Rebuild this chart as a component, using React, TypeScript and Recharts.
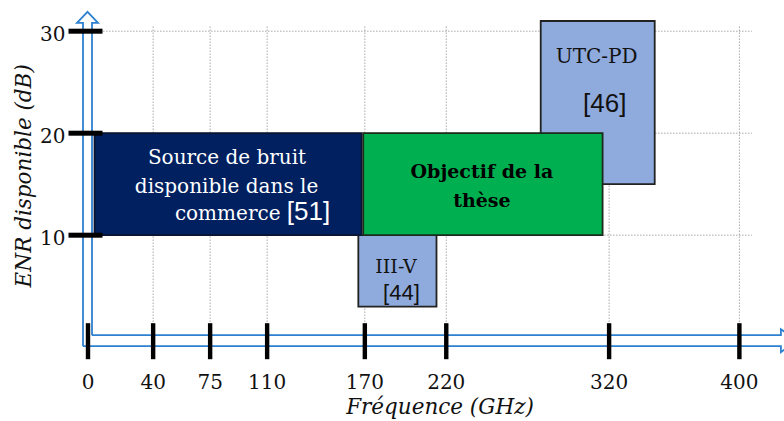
import React from 'react';
import { ComposedChart, XAxis, YAxis, ReferenceArea, ReferenceLine } from 'recharts';

// ---- data ----
const xTicks = [0, 40, 75, 110, 170, 220, 320, 400];
const yTicks = [10, 20, 30];
const xDomain = [0, 425];
const yDomain = [0, 32];
// extent of the dotted grid (data units)
const gridXRange = [7.4, 407.7];
const gridYRange = [1.2, 30.6];

const boxNames = ['UTC-PD', 'III-V', 'Source', 'Objectif'];
const boxX1 = [278, 166, 4, 169];
const boxX2 = [348, 214, 168, 316];
const boxY1 = [15, 3, 10, 10];
const boxY2 = [31, 10, 20, 20];
const boxLabels: string[][] = [
  ['UTC-PD', '[46]'],
  ['III-V', '[44]'],
  ['Source de bruit', 'disponible dans le', 'commerce [51]'],
  ['Objectif de la', 'thèse'],
];
const xTitle = 'Fréquence (GHz)';
const yTitle = 'ENR disponible (dB)';

// ---- styles ----
const SERIF = '"DejaVu Serif", serif';
const SANS = '"Liberation Sans", Arial, sans-serif';
const AXIS_BLUE = '#2E80D0';
const GRID = '#a8a8a8';
const boxFill = ['#8FAADC', '#8FAADC', '#002060', '#00B050'];
const boxStroke = ['#222222', '#222222', '#0a1430', '#1b2a1b'];
const labelStyle = [
  { color: '#111', weight: 400, size: 20, lines: [{ dx: -1, dy: -39.6, ref: 26 }, { dx: 7, dy: 9.4, ref: 26 }] },
  { color: '#111', weight: 400, size: 19, lines: [{ dx: -1.4, dy: 2.5, ref: 22 }, { dx: 4, dy: 29.5, ref: 22 }] },
  { color: '#fff', weight: 400, size: 20, lines: [{ dx: -1, dy: -20, ref: 26 }, { dx: -1.5, dy: 9, ref: 26 }, { dx: 24.5, dy: 36, ref: 26 }] },
  { color: '#000', weight: 700, size: 19, lines: [{ dx: -1, dy: -6, ref: 26 }, { dx: -1, dy: 23, ref: 26 }] },
];

const BoxLabel = (props: any) => {
  const { viewBox, idx } = props;
  if (!viewBox) return null;
  const cx = viewBox.x + viewBox.width / 2;
  const cy = viewBox.y + viewBox.height / 2;
  const st = labelStyle[idx];
  return (
    <g>
      {boxLabels[idx].map((line, i) => {
        const ln = st.lines[i];
        const parts = line.split(/(\[\d+\])/).filter((s) => s.length > 0);
        return (
          <text key={i} x={cx + ln.dx} y={cy + ln.dy} textAnchor="middle" fill={st.color}
            fontFamily={SERIF} fontSize={st.size} fontWeight={st.weight}>
            {parts.map((p, j) =>
              /^\[\d+\]$/.test(p) ? (
                <tspan key={j} fontFamily={SANS} fontSize={ln.ref} fontWeight={400}>{p}</tspan>
              ) : (
                <tspan key={j}>{p}</tspan>
              )
            )}
          </text>
        );
      })}
    </g>
  );
};

const XTick = (props: any) => {
  const { x, y, payload } = props;
  return (
    <g>
      <rect x={x - 2.2} y={y - 14} width={4.4} height={36} fill="#000" />
      <text x={x} y={y + 52} textAnchor="middle" fontFamily={SERIF} fontSize={20} fill="#111">
        {payload.value}
      </text>
    </g>
  );
};

const YTick = (props: any) => {
  const { x, y, payload } = props;
  return (
    <g>
      <rect x={x - 19.5} y={y - 2.5} width={34} height={5} fill="#000" />
      <text x={x - 22.5} y={y + 10} textAnchor="end" fontFamily={SERIF} fontSize={20} fill="#111">
        {payload.value}
      </text>
    </g>
  );
};

const VArrow = (props: any) => {
  const { x1, y1, y2 } = props;
  const cx = x1 - 0.5;
  const tip = Math.min(y1, y2);
  const y0 = Math.max(y1, y2);
  const base = tip + 11;
  const h = 4.5;
  return (
    <g>
      <path d={`M${cx - h},${base} L${cx - 10.5},${base} L${cx},${tip} L${cx + 10.5},${base} L${cx + h},${base} L${cx + h},${y0 - 2} L${cx - h},${y0 - 2} Z`} fill="#fff" stroke="none" />
      <path d={`M${cx - h},${y0 + 9} L${cx - h},${base} L${cx - 10.5},${base} L${cx},${tip} L${cx + 10.5},${base} L${cx + h},${base} L${cx + h},${y0 - 2}`}
        fill="none" stroke={AXIS_BLUE} strokeWidth={1.8} />
    </g>
  );
};

const HArrow = (props: any) => {
  const { x1, y1, x2 } = props;
  const cx = x1 - 0.5;
  const xe = x2;
  const top = y1 - 2;
  const bot = y1 + 9;
  return (
    <g>
      <rect x={cx + 4.5} y={top} width={xe - cx - 4.5} height={bot - top} fill="#fff" />
      <path d={`M${cx + 4.5},${top} L${xe},${top} L${xe},${top - 6} L${xe + 16},${(top + bot) / 2} L${xe},${bot + 6} L${xe},${bot} L${cx - 4.5},${bot}`}
        fill="none" stroke={AXIS_BLUE} strokeWidth={1.8} />
    </g>
  );
};

const XTitle = (props: any) => {
  const { viewBox } = props;
  if (!viewBox) return null;
  return (
    <text x={viewBox.x + viewBox.width / 2 + 6} y={viewBox.y + 77} textAnchor="middle"
      fontFamily={SERIF} fontStyle="italic" fontSize={21.5} fill="#111">{xTitle}</text>
  );
};

const YTitle = (props: any) => {
  const { viewBox } = props;
  if (!viewBox) return null;
  const x = viewBox.x + 31;
  const y = viewBox.y + 165;
  return (
    <text x={x} y={y} transform={`rotate(-90 ${x} ${y})`} textAnchor="middle"
      fontFamily={SERIF} fontStyle="italic" fontSize={21.5} fill="#111">{yTitle}</text>
  );
};

export default function App() {
  return (
    <div style={{ position: 'absolute', left: 0, top: 0, width: 784, height: 421, background: '#fff' }}>
      <ComposedChart width={784} height={421} data={[]} margin={{ top: 10.8, right: 3.9, bottom: 23.8, left: 0 }}>
        {xTicks.filter((t) => t > 0).map((t) => (
          <ReferenceLine key={'gx' + t} segment={[{ x: t, y: gridYRange[0] }, { x: t, y: gridYRange[1] }]}
            ifOverflow="visible" stroke={GRID} strokeDasharray="1.5 1.5" strokeWidth={1} zIndex={-100} />
        ))}
        {yTicks.map((t) => (
          <ReferenceLine key={'gy' + t} segment={[{ x: gridXRange[0], y: t }, { x: gridXRange[1], y: t }]}
            ifOverflow="visible" stroke={GRID} strokeDasharray="1.5 1.5" strokeWidth={1} zIndex={-100} />
        ))}
        {boxNames.map((name, i) => (
          <ReferenceArea key={name} x1={boxX1[i]} x2={boxX2[i]} y1={boxY1[i]} y2={boxY2[i]}
            fill={boxFill[i]} fillOpacity={1} stroke={boxStroke[i]} strokeWidth={1.8}
            ifOverflow="visible" label={<BoxLabel idx={i} />} />
        ))}
        <ReferenceLine segment={[{ x: 0, y: 0 }, { x: 425.5, y: 0 }]} ifOverflow="visible" shape={(p: any) => <HArrow {...p} />} />
        <ReferenceLine segment={[{ x: 0, y: 0 }, { x: 0, y: 31.9 }]} ifOverflow="visible" shape={(p: any) => <VArrow {...p} />} />
        <XAxis type="number" dataKey="x" domain={xDomain} ticks={xTicks} interval={0} allowDataOverflow
          axisLine={false} tickLine={false} tickSize={0} tickMargin={0} height={60}
          tick={<XTick />} label={(p: any) => <XTitle {...p} />} />
        <YAxis type="number" dataKey="y" domain={yDomain} ticks={yTicks} interval={0} allowDataOverflow
          axisLine={false} tickLine={false} tickSize={0} tickMargin={0} width={88}
          tick={<YTick />} label={(p: any) => <YTitle {...p} />} />
      </ComposedChart>
    </div>
  );
}
